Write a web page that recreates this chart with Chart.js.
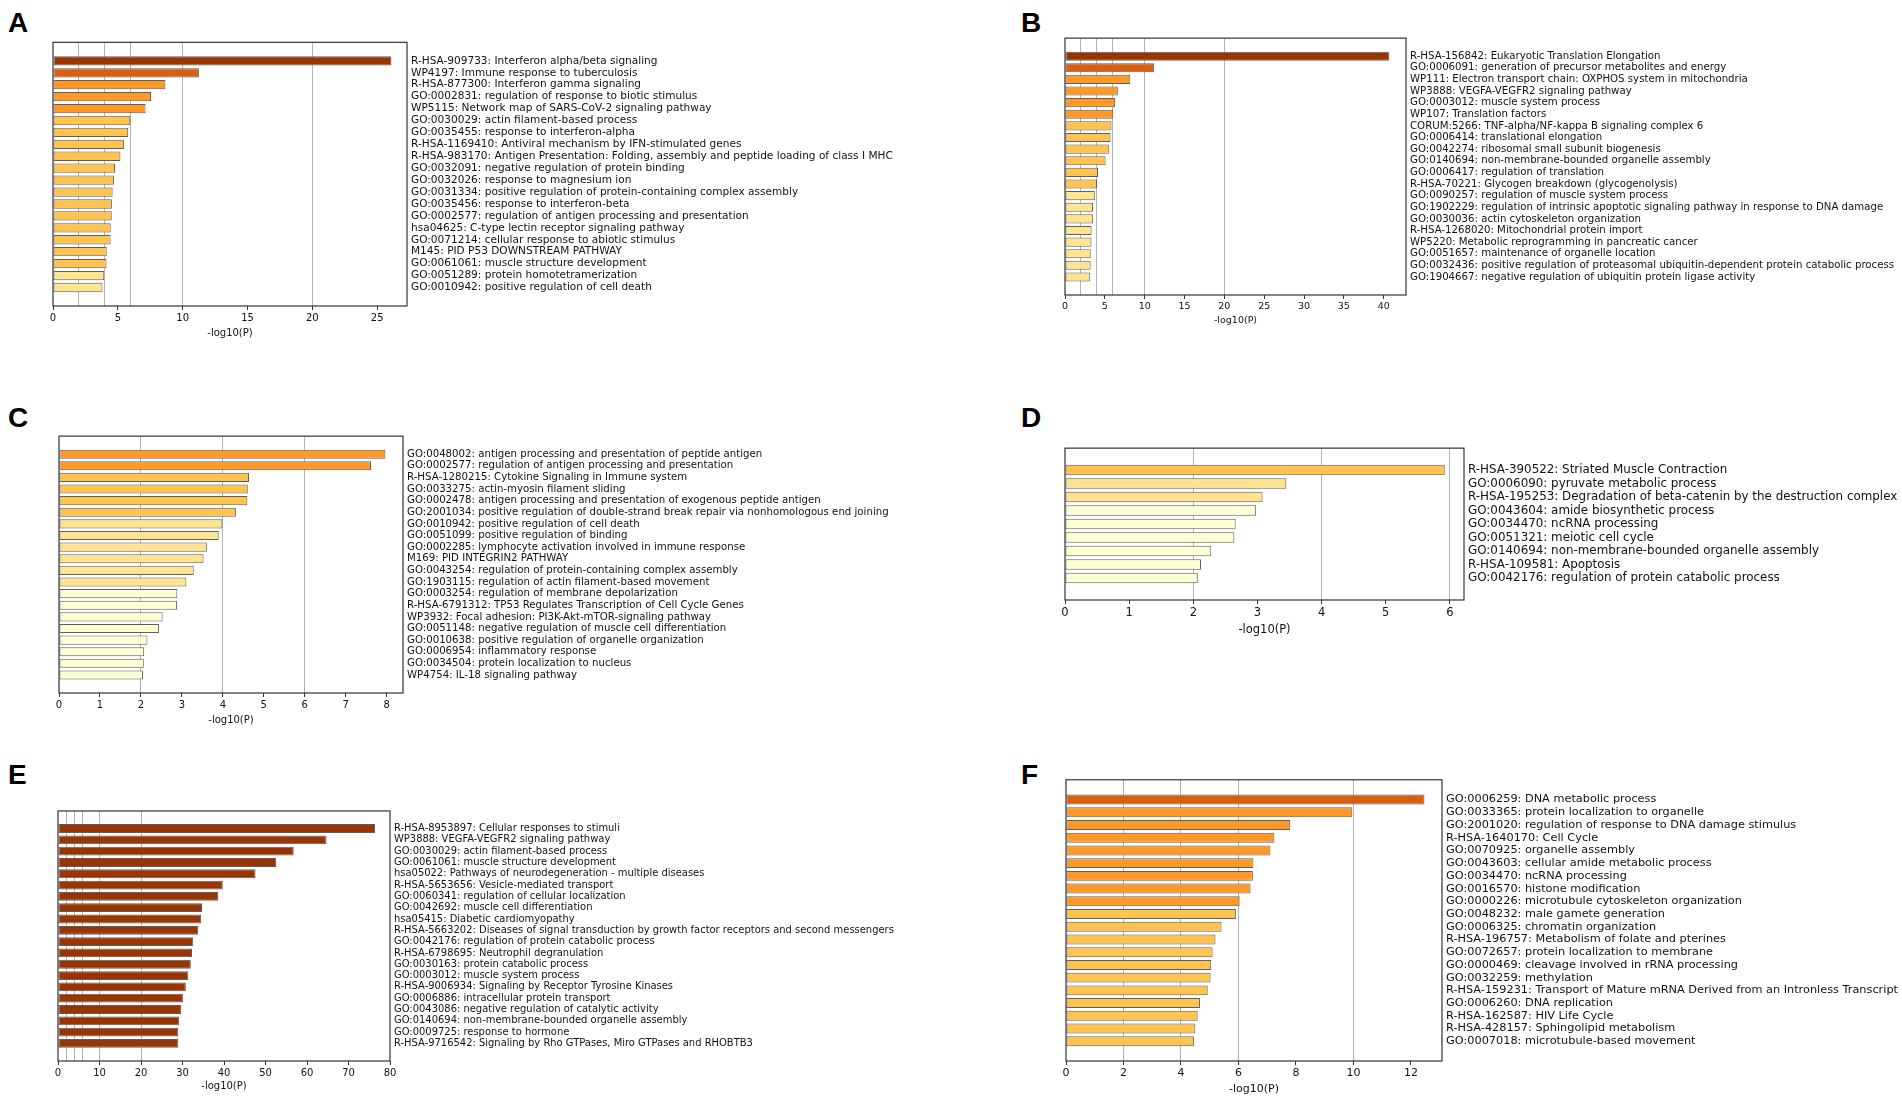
<!DOCTYPE html>
<html>
<head>
<meta charset="utf-8">
<script src="https://cdn.jsdelivr.net/npm/chart.js@4.4.1/dist/chart.umd.min.js"></script>
<style>
  html, body { margin: 0; padding: 0; background: #fff; }
  #page { position: relative; width: 1902px; height: 1102px; overflow: hidden; }
  .panel { position: absolute; }
  .letter { position: absolute; font: bold 28px "Liberation Sans", Arial, sans-serif; line-height: 1; color: #000; }
</style>
</head>
<body>
<div id="page"></div>
<script>
// Panel A
const labelsA = [
    'R-HSA-909733: Interferon alpha/beta signaling',
    'WP4197: Immune response to tuberculosis',
    'R-HSA-877300: Interferon gamma signaling',
    'GO:0002831: regulation of response to biotic stimulus',
    'WP5115: Network map of SARS-CoV-2 signaling pathway',
    'GO:0030029: actin filament-based process',
    'GO:0035455: response to interferon-alpha',
    'R-HSA-1169410: Antiviral mechanism by IFN-stimulated genes',
    'R-HSA-983170: Antigen Presentation: Folding, assembly and peptide loading of class I MHC',
    'GO:0032091: negative regulation of protein binding',
    'GO:0032026: response to magnesium ion',
    'GO:0031334: positive regulation of protein-containing complex assembly',
    'GO:0035456: response to interferon-beta',
    'GO:0002577: regulation of antigen processing and presentation',
    'hsa04625: C-type lectin receptor signaling pathway',
    'GO:0071214: cellular response to abiotic stimulus',
    'M145: PID P53 DOWNSTREAM PATHWAY',
    'GO:0061061: muscle structure development',
    'GO:0051289: protein homotetramerization',
    'GO:0010942: positive regulation of cell death'
];
const valuesA = [26.1, 11.25, 8.67, 7.56, 7.14, 5.96, 5.8, 5.47, 5.2, 4.78,
    4.7, 4.6, 4.54, 4.53, 4.45, 4.44, 4.14, 4.13, 3.95, 3.82];

// Panel B
const labelsB = [
    'R-HSA-156842: Eukaryotic Translation Elongation',
    'GO:0006091: generation of precursor metabolites and energy',
    'WP111: Electron transport chain: OXPHOS system in mitochondria',
    'WP3888: VEGFA-VEGFR2 signaling pathway',
    'GO:0003012: muscle system process',
    'WP107: Translation factors',
    'CORUM:5266: TNF-alpha/NF-kappa B signaling complex 6',
    'GO:0006414: translational elongation',
    'GO:0042274: ribosomal small subunit biogenesis',
    'GO:0140694: non-membrane-bounded organelle assembly',
    'GO:0006417: regulation of translation',
    'R-HSA-70221: Glycogen breakdown (glycogenolysis)',
    'GO:0090257: regulation of muscle system process',
    'GO:1902229: regulation of intrinsic apoptotic signaling pathway in response to DNA damage',
    'GO:0030036: actin cytoskeleton organization',
    'R-HSA-1268020: Mitochondrial protein import',
    'WP5220: Metabolic reprogramming in pancreatic cancer',
    'GO:0051657: maintenance of organelle location',
    'GO:0032436: positive regulation of proteasomal ubiquitin-dependent protein catabolic process',
    'GO:1904667: negative regulation of ubiquitin protein ligase activity'
];
const valuesB = [40.7, 11.2, 8.2, 6.63, 6.29, 6.06, 5.84, 5.72, 5.5, 5.1,
    4.14, 4.02, 3.74, 3.51, 3.5, 3.34, 3.33, 3.23, 3.22, 3.17];

// Panel C
const labelsC = [
    'GO:0048002: antigen processing and presentation of peptide antigen',
    'GO:0002577: regulation of antigen processing and presentation',
    'R-HSA-1280215: Cytokine Signaling in Immune system',
    'GO:0033275: actin-myosin filament sliding',
    'GO:0002478: antigen processing and presentation of exogenous peptide antigen',
    'GO:2001034: positive regulation of double-strand break repair via nonhomologous end joining',
    'GO:0010942: positive regulation of cell death',
    'GO:0051099: positive regulation of binding',
    'GO:0002285: lymphocyte activation involved in immune response',
    'M169: PID INTEGRIN2 PATHWAY',
    'GO:0043254: regulation of protein-containing complex assembly',
    'GO:1903115: regulation of actin filament-based movement',
    'GO:0003254: regulation of membrane depolarization',
    'R-HSA-6791312: TP53 Regulates Transcription of Cell Cycle Genes',
    'WP3932: Focal adhesion: PI3K-Akt-mTOR-signaling pathway',
    'GO:0051148: negative regulation of muscle cell differentiation',
    'GO:0010638: positive regulation of organelle organization',
    'GO:0006954: inflammatory response',
    'GO:0034504: protein localization to nucleus',
    'WP4754: IL-18 signaling pathway'
];
const valuesC = [7.97, 7.62, 4.64, 4.61, 4.6, 4.32, 3.99, 3.9, 3.61, 3.53,
    3.29, 3.11, 2.89, 2.88, 2.53, 2.44, 2.16, 2.08, 2.07, 2.05];

// Panel D
const labelsD = [
    'R-HSA-390522: Striated Muscle Contraction',
    'GO:0006090: pyruvate metabolic process',
    'R-HSA-195253: Degradation of beta-catenin by the destruction complex',
    'GO:0043604: amide biosynthetic process',
    'GO:0034470: ncRNA processing',
    'GO:0051321: meiotic cell cycle',
    'GO:0140694: non-membrane-bounded organelle assembly',
    'R-HSA-109581: Apoptosis',
    'GO:0042176: regulation of protein catabolic process'
];
const valuesD = [5.92, 3.45, 3.08, 2.98, 2.66, 2.64, 2.28, 2.12, 2.07];

// Panel E
const labelsE = [
    'R-HSA-8953897: Cellular responses to stimuli',
    'WP3888: VEGFA-VEGFR2 signaling pathway',
    'GO:0030029: actin filament-based process',
    'GO:0061061: muscle structure development',
    'hsa05022: Pathways of neurodegeneration - multiple diseases',
    'R-HSA-5653656: Vesicle-mediated transport',
    'GO:0060341: regulation of cellular localization',
    'GO:0042692: muscle cell differentiation',
    'hsa05415: Diabetic cardiomyopathy',
    'R-HSA-5663202: Diseases of signal transduction by growth factor receptors and second messengers',
    'GO:0042176: regulation of protein catabolic process',
    'R-HSA-6798695: Neutrophil degranulation',
    'GO:0030163: protein catabolic process',
    'GO:0003012: muscle system process',
    'R-HSA-9006934: Signaling by Receptor Tyrosine Kinases',
    'GO:0006886: intracellular protein transport',
    'GO:0043086: negative regulation of catalytic activity',
    'GO:0140694: non-membrane-bounded organelle assembly',
    'GO:0009725: response to hormone',
    'R-HSA-9716542: Signaling by Rho GTPases, Miro GTPases and RHOBTB3'
];
const valuesE = [76.4, 64.7, 56.8, 52.6, 47.6, 39.7, 38.6, 34.7, 34.5, 33.8,
    32.6, 32.3, 32.0, 31.4, 30.8, 30.1, 29.7, 29.2, 29.0, 29.0];

// Panel F
const labelsF = [
    'GO:0006259: DNA metabolic process',
    'GO:0033365: protein localization to organelle',
    'GO:2001020: regulation of response to DNA damage stimulus',
    'R-HSA-1640170: Cell Cycle',
    'GO:0070925: organelle assembly',
    'GO:0043603: cellular amide metabolic process',
    'GO:0034470: ncRNA processing',
    'GO:0016570: histone modification',
    'GO:0000226: microtubule cytoskeleton organization',
    'GO:0048232: male gamete generation',
    'GO:0006325: chromatin organization',
    'R-HSA-196757: Metabolism of folate and pterines',
    'GO:0072657: protein localization to membrane',
    'GO:0000469: cleavage involved in rRNA processing',
    'GO:0032259: methylation',
    'R-HSA-159231: Transport of Mature mRNA Derived from an Intronless Transcript',
    'GO:0006260: DNA replication',
    'R-HSA-162587: HIV Life Cycle',
    'R-HSA-428157: Sphingolipid metabolism',
    'GO:0007018: microtubule-based movement'
];
const valuesF = [12.47, 9.96, 7.8, 7.25, 7.11, 6.52, 6.5, 6.42, 6.04, 5.91,
    5.41, 5.2, 5.1, 5.05, 5.03, 4.93, 4.66, 4.58, 4.5, 4.45];

// vertical reference lines used by all panels
const gridValues = [2, 4, 6, 10, 20];
const axisTitle = '-log10(P)';

const FONT = "'DejaVu Sans', 'Noto Sans', sans-serif";

// color by -log10(P) bucket
function barColor(v) {
    if (v >= 20) return '#993404';
    if (v >= 10) return '#d95f0e';
    if (v >= 6) return '#fe9929';
    if (v >= 4) return '#fec44f';
    if (v >= 3) return '#fee391';
    return '#ffffd4';
}

const panels = [
    { letter: 'A', labels: labelsA, values: valuesA, xMax: 27.3, step: 5,
      left: 53, top: 38, width: 354, height: 268, labelWidth: 500, axisHeight: 37,
      labelSize: 10.55, tickSize: 10, letterPos: [8, 9] },
    { letter: 'B', labels: labelsB, values: valuesB, xMax: 42.8, step: 5,
      left: 1065, top: 34, width: 341, height: 261, labelWidth: 496, axisHeight: 35,
      labelSize: 10.2, tickSize: 9.5, letterPos: [1021, 9] },
    { letter: 'C', labels: labelsC, values: valuesC, xMax: 8.4, step: 1,
      left: 59, top: 432, width: 344, height: 261, labelWidth: 500, axisHeight: 37,
      labelSize: 10.2, tickSize: 10, letterPos: [8, 404] },
    { letter: 'D', labels: labelsD, values: valuesD, xMax: 6.22, step: 1,
      left: 1065, top: 443, width: 399, height: 157, labelWidth: 437, axisHeight: 41,
      labelSize: 11.9, tickSize: 11.5, letterPos: [1021, 404] },
    { letter: 'E', labels: labelsE, values: valuesE, xMax: 80, step: 10,
      left: 58, top: 807, width: 332, height: 254, labelWidth: 520, axisHeight: 35,
      labelSize: 9.95, tickSize: 10, letterPos: [8, 761] },
    { letter: 'F', labels: labelsF, values: valuesF, xMax: 13.08, step: 2,
      left: 1066, top: 775, width: 376, height: 286, labelWidth: 460, axisHeight: 39,
      labelSize: 11.3, tickSize: 11, letterPos: [1021, 761] }
];

// frame around the plot area
const boxBorder = {
    id: 'boxBorder',
    afterDatasetsDraw(chart) {
        const { ctx, chartArea: a } = chart;
        ctx.save();
        ctx.strokeStyle = '#333';
        ctx.lineWidth = 1.2;
        ctx.strokeRect(a.left, a.top, a.right - a.left, a.bottom - a.top);
        ctx.restore();
    }
};

const page = document.getElementById('page');

function drawPanel(p) {
    const padL = 10, padT = 6;
    const w = padL + p.width + p.labelWidth;
    const h = padT + p.height + p.axisHeight;

    const letter = document.createElement('div');
    letter.className = 'letter';
    letter.textContent = p.letter;
    letter.style.left = p.letterPos[0] + 'px';
    letter.style.top = p.letterPos[1] + 'px';
    page.appendChild(letter);

    const wrap = document.createElement('div');
    wrap.className = 'panel';
    wrap.style.left = (p.left - padL) + 'px';
    wrap.style.top = (p.top - padT) + 'px';
    const canvas = document.createElement('canvas');
    canvas.width = w;
    canvas.height = h;
    canvas.style.width = w + 'px';
    canvas.style.height = h + 'px';
    wrap.appendChild(canvas);
    page.appendChild(wrap);

    const tickFont = { family: FONT, size: p.tickSize };

    new Chart(canvas, {
        type: 'bar',
        data: {
            datasets: [{
                data: p.values.map((v, i) => ({ x: v, y: i })),
                xAxisID: 'x',
                yAxisID: 'y',
                backgroundColor: p.values.map(barColor),
                borderColor: '#5e5e5e',
                borderWidth: 1,
                borderSkipped: false,
                barPercentage: 0.78,
                categoryPercentage: 1
            }]
        },
        options: {
            indexAxis: 'y',
            responsive: false,
            animation: false,
            layout: { padding: { left: padL, top: padT, right: 0, bottom: 0 } },
            plugins: { legend: { display: false }, tooltip: { enabled: false } },
            scales: {
                x: {
                    type: 'linear', position: 'bottom', min: 0, max: p.xMax,
                    ticks: { stepSize: p.step, includeBounds: false, maxRotation: 0,
                             padding: 2, color: '#111', font: tickFont },
                    grid: { drawOnChartArea: false, drawTicks: true, tickLength: 4, color: '#333' },
                    border: { display: false },
                    title: { display: true, text: axisTitle, color: '#111', font: tickFont,
                             padding: { top: 0, bottom: 4 } },
                    afterFit: s => { s.height = p.axisHeight; }
                },
                xg: {
                    axis: 'x', type: 'linear', position: 'bottom', min: 0, max: p.xMax,
                    ticks: { display: false },
                    grid: { drawTicks: false, color: '#b4b4b4', lineWidth: 1 },
                    border: { display: false },
                    afterBuildTicks: s => {
                        s.ticks = gridValues.filter(g => g < p.xMax).map(g => ({ value: g }));
                    },
                    afterFit: s => { s.height = 0; }
                },
                y: {
                    type: 'linear', position: 'right', reverse: true,
                    min: -1, max: p.labels.length,
                    afterBuildTicks: s => {
                        s.ticks = p.labels.map((_, i) => ({ value: i }));
                    },
                    ticks: { autoSkip: false, padding: 4, color: '#111',
                             font: { family: FONT, size: p.labelSize },
                             callback: v => p.labels[v] },
                    grid: { display: false, drawTicks: false },
                    border: { display: false },
                    afterFit: s => { s.width = p.labelWidth; }
                }
            }
        },
        plugins: [boxBorder]
    });
}

panels.forEach(drawPanel);
</script>
</body>
</html>
